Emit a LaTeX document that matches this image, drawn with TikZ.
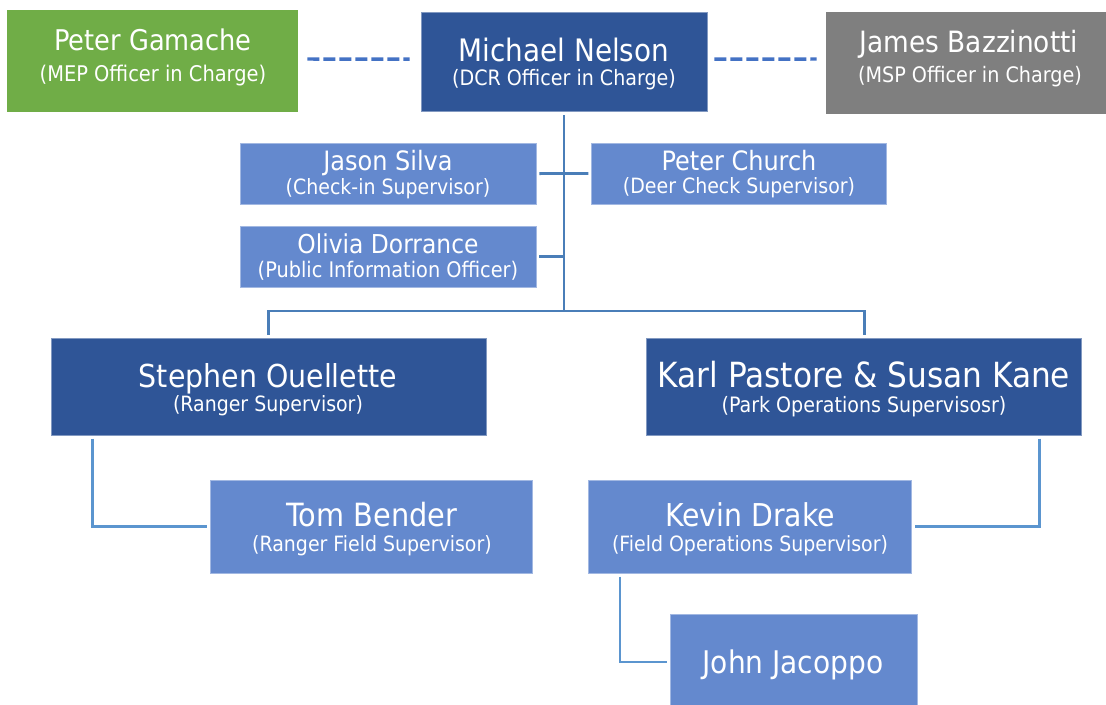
\documentclass[tikz,border=0pt]{standalone}
\usepackage{fontspec}
\setmainfont{DejaVu Sans Condensed}
\usetikzlibrary{calc}
\definecolor{dkblue}{HTML}{2F5597}
\definecolor{ltblue}{HTML}{6489CE}
\definecolor{grn}{HTML}{70AD47}
\definecolor{gry}{HTML}{7F7F7F}
\definecolor{dashc}{HTML}{4472C4}
\definecolor{trunkc}{HTML}{4A7EB8}
\definecolor{lconnc}{HTML}{5B95CF}
\newdimen\pxu \pxu=0.75pt
\begin{document}
\begin{tikzpicture}[x=0.75pt,y=-0.75pt,
  bs/.style 2 args={rectangle, inner sep=0pt, minimum width=#1\pxu, minimum height=#2\pxu},
  dbox/.style={fill=dkblue, draw=dkblue!60!white, line width=0.5pt},
  lbox/.style={fill=ltblue, draw=ltblue!60!white, line width=0.5pt},
  gbox/.style={fill=grn, draw=none},
  ybox/.style={fill=gry, draw=none},
  nm/.style={text=white, inner sep=0pt, font=\fontsize{#1}{#1}\selectfont, text height={0.73*#1pt}, text depth=0pt},
  nm/.default=23,
  sb/.style={text=white, inner sep=0pt, font=\fontsize{#1}{#1}\selectfont, text height={0.73*#1pt}, text depth=0pt},
  sb/.default=15.8,
  dashln/.style={draw=dashc, line width=2.6pt, dash pattern=on 9pt off 3pt},
  trunk/.style={draw=trunkc, line width=2.1pt},
  lconn/.style={draw=lconnc, line width=2.1pt}
]
\useasboundingbox (0,0) rectangle (1106,704);

% top row
\node[gbox, bs={291}{102}] (pg) at (152.5,61) {};
\node[nm=21.4] (pgT) at (153,40) {Peter Gamache};
\node[sb=16.2] (pgS) at (153,74) {(MEP Officer in Charge)};

\node[dbox, bs={286}{99}] (mn) at (564,62.2) {};
\node[nm=23.2] (mnT) at (564,50) {Michael Nelson};
\node[sb=15.9] (mnS) at (564,78) {(DCR Officer in Charge)};

\node[ybox, bs={280}{102}] (jb) at (966,63) {};
\node[nm=22] (jbT) at (969,42) {James Bazzinotti};
\node[sb=16] (jbS) at (970,75) {(MSP Officer in Charge)};

% staff
\node[lbox, bs={296}{61}] (js) at (388,173.6) {};
\node[nm=20] (jsT) at (388,161) {Jason Silva};
\node[sb] (jsS) at (388,187) {(Check-in Supervisor)};

\node[lbox, bs={295}{61}] (pc) at (739.3,173.4) {};
\node[nm=20] (pcT) at (739,161) {Peter Church};
\node[sb] (pcS) at (739,186) {(Deer Check Supervisor)};

\node[lbox, bs={296}{61}] (od) at (388,256.8) {};
\node[nm=19.5] (odT) at (388,244) {Olivia Dorrance};
\node[sb=16.1] (odS) at (388,270) {(Public Information Officer)};

% second level
\node[dbox, bs={435}{97}] (so) at (268.5,386.7) {};
\node[nm=23.7] (soT) at (268,376) {Stephen Ouellette};
\node[sb] (soS) at (268,404) {(Ranger Supervisor)};

\node[dbox, bs={435}{97}] (kp) at (864.3,386.7) {};
\node[nm=26] (kpT) at (864,375) {Karl Pastore \& Susan Kane};
\node[sb=15.9] (kpS) at (864,405) {(Park Operations Supervisosr)};

% third level
\node[lbox, bs={322}{93}] (tb) at (371.8,526.7) {};
\node[nm=24] (tbT) at (372,515) {Tom Bender};
\node[sb] (tbS) at (372,544) {(Ranger Field Supervisor)};

\node[lbox, bs={323}{93}] (kd) at (749.8,526.7) {};
\node[nm=23.6] (kdT) at (750,515) {Kevin Drake};
\node[sb] (kdS) at (750,544) {(Field Operations Supervisor)};

\node[lbox, bs={247}{96}] (jj) at (793.5,662) {};
\node[nm=23.4] (jjT) at (793,662) {John Jacoppo};

% dashed links
\draw[dashln] ($(pg.east)+(9,-2)$) -- ($(mn.west)+(-11,-3)$);
\draw[dashln] ($(mn.east)+(7,-3)$) -- ($(jb.west)+(-9,-4)$);

% trunk
\coordinate (bar) at (564,311);
\draw[trunk] ($(mn.south)+(0,3)$) -- (bar);
\draw[trunk] ($(so.north)+(0,-3)$) |- (bar) -| ($(kp.north)+(0,-3)$);
\draw[trunk] ($(js.east)+(3,0)$) -- ($(pc.west)+(-3,0)$);
\draw[trunk] ($(od.east)+(3,0)$) -- (od.east -| bar);

% lower links
\draw[lconn] ($(so.south west)+(42,3)$) |- ($(tb.west)+(-3,0)$);
\draw[lconn] ($(kp.south east)+(-43,3)$) |- ($(kd.east)+(3,0)$);
\draw[lconn] ($(kd.south west)+(32,3)$) |- ($(jj.west)+(-3,0)$);
\end{tikzpicture}
\end{document}
